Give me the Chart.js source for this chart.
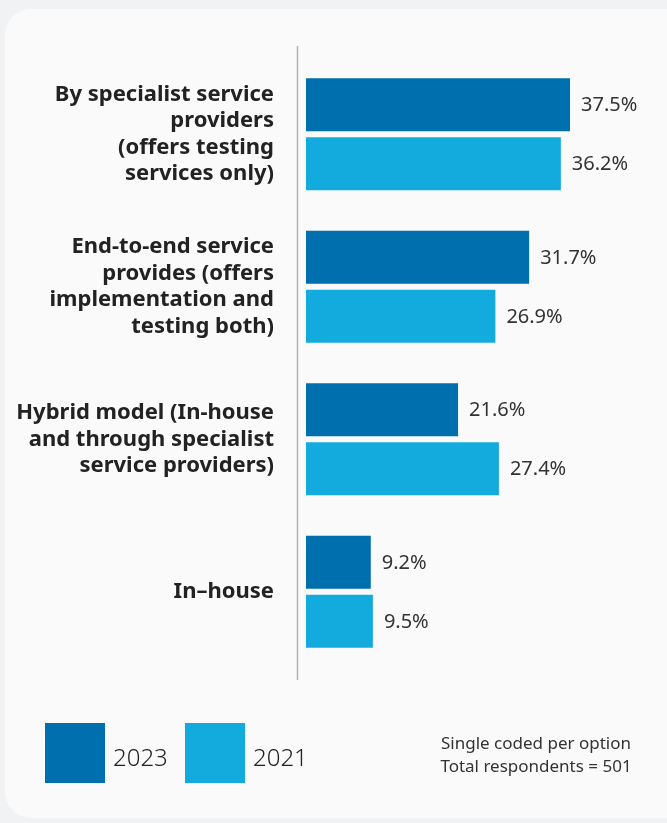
<!DOCTYPE html>
<html>
<head>
<meta charset="utf-8">
<script src="https://cdn.jsdelivr.net/npm/chart.js@4"></script>
<style>
  html, body { margin: 0; padding: 0; }
  body {
    width: 667px; height: 823px; overflow: hidden; position: relative;
    background: #f1f2f4; font-family: "Noto Sans", "Open Sans", sans-serif;
  }
  .card {
    position: absolute; left: 5px; top: 9px; width: 690px; height: 809px;
    background: #fafafa; border-radius: 26px;
  }
  .wrap { position: absolute; left: 0; top: 0; width: 667px; height: 823px; }
  .legend { position: absolute; left: 45px; top: 723px; display: flex; }
  .legend .item { display: flex; align-items: center; margin-right: 15px; }
  .legend .box { width: 60px; height: 60px; }
  .legend .txt { margin-left: 8px; width: 57px; font-size: 24px; color: #222; font-weight: 300; padding-top: 6px; white-space: nowrap; }
  .note {
    position: absolute; left: 416px; top: 731px; width: 240px; text-align: center;
    font-size: 17px; line-height: 23px; color: #333;
  }
</style>
</head>
<body>
<div class="card"></div>
<div class="wrap"><canvas id="myChart" width="667" height="823"></canvas></div>
<div class="legend" id="legend"></div>
<div class="note">Single coded per option<br>Total respondents = 501</div>
<script>
    const categories = [
        ['By specialist service', 'providers', '(offers testing', 'services only)'],
        ['End-to-end service', 'provides (offers', 'implementation and', 'testing both)'],
        ['Hybrid model (In-house', 'and through specialist', 'service providers)'],
        ['In–house']
    ];
    const seriesNames = ['2023', '2021'];
    const values2023 = [37.5, 31.7, 21.6, 9.2];
    const values2021 = [36.2, 26.9, 27.4, 9.5];
    const colors = ['#006fad', '#13aadd'];

    // Függőleges tengelyvonal a sávok bal oldalán
    const axisLine = {
        id: 'axisLine',
        beforeDatasetsDraw(chart) {
            const { ctx, chartArea } = chart;
            const x = chartArea.left - 8.5;
            ctx.save();
            ctx.strokeStyle = '#b3b3b3';
            ctx.lineWidth = 1.5;
            ctx.beginPath();
            ctx.moveTo(x, chartArea.top - 12);
            ctx.lineTo(x, chartArea.bottom + 12);
            ctx.stroke();
            ctx.restore();
        }
    };

    // Értékcímkék a sávok végén
    const valueLabels = {
        id: 'valueLabels',
        afterDatasetsDraw(chart) {
            const { ctx } = chart;
            ctx.save();
            ctx.font = '20px "Noto Sans", sans-serif';
            ctx.fillStyle = '#333';
            ctx.textAlign = 'left';
            ctx.textBaseline = 'middle';
            chart.data.datasets.forEach((ds, i) => {
                chart.getDatasetMeta(i).data.forEach((bar, j) => {
                    ctx.fillText(ds.data[j].toFixed(1) + '%', bar.x + 11, bar.y + 1);
                });
            });
            ctx.restore();
        }
    };

    const ctx = document.getElementById('myChart').getContext('2d');
    const myChart = new Chart(ctx, {
        type: 'bar',
        data: {
            labels: categories,
            datasets: [
                { label: seriesNames[0], data: values2023, backgroundColor: colors[0] },
                { label: seriesNames[1], data: values2021, backgroundColor: colors[1] }
            ]
        },
        options: {
            indexAxis: 'y',
            responsive: false,
            animation: false,
            categoryPercentage: 0.773,
            barPercentage: 0.898,
            layout: { padding: { top: 58, bottom: 155, left: 0, right: 79.4 } },
            plugins: {
                legend: { display: false },
                tooltip: { enabled: false }
            },
            scales: {
                x: { display: false, min: 0, max: 40 },
                y: {
                    grid: { display: false, drawTicks: false },
                    border: { display: false },
                    afterFit: (scale) => { scale.width = 306; },
                    ticks: {
                        autoSkip: false,
                        padding: 32,
                        color: '#222',
                        font: { family: '"Noto Sans", sans-serif', size: 22, weight: 'bold', lineHeight: 1.2 }
                    }
                }
            }
        },
        plugins: [axisLine, valueLabels]
    });

    // Jelmagyarázat
    const legend = document.getElementById('legend');
    myChart.data.datasets.forEach(ds => {
        const item = document.createElement('div');
        item.className = 'item';
        item.innerHTML = '<div class="box" style="background:' + ds.backgroundColor + '"></div>' +
            '<div class="txt">' + ds.label + '</div>';
        legend.appendChild(item);
    });
</script>
</body>
</html>
